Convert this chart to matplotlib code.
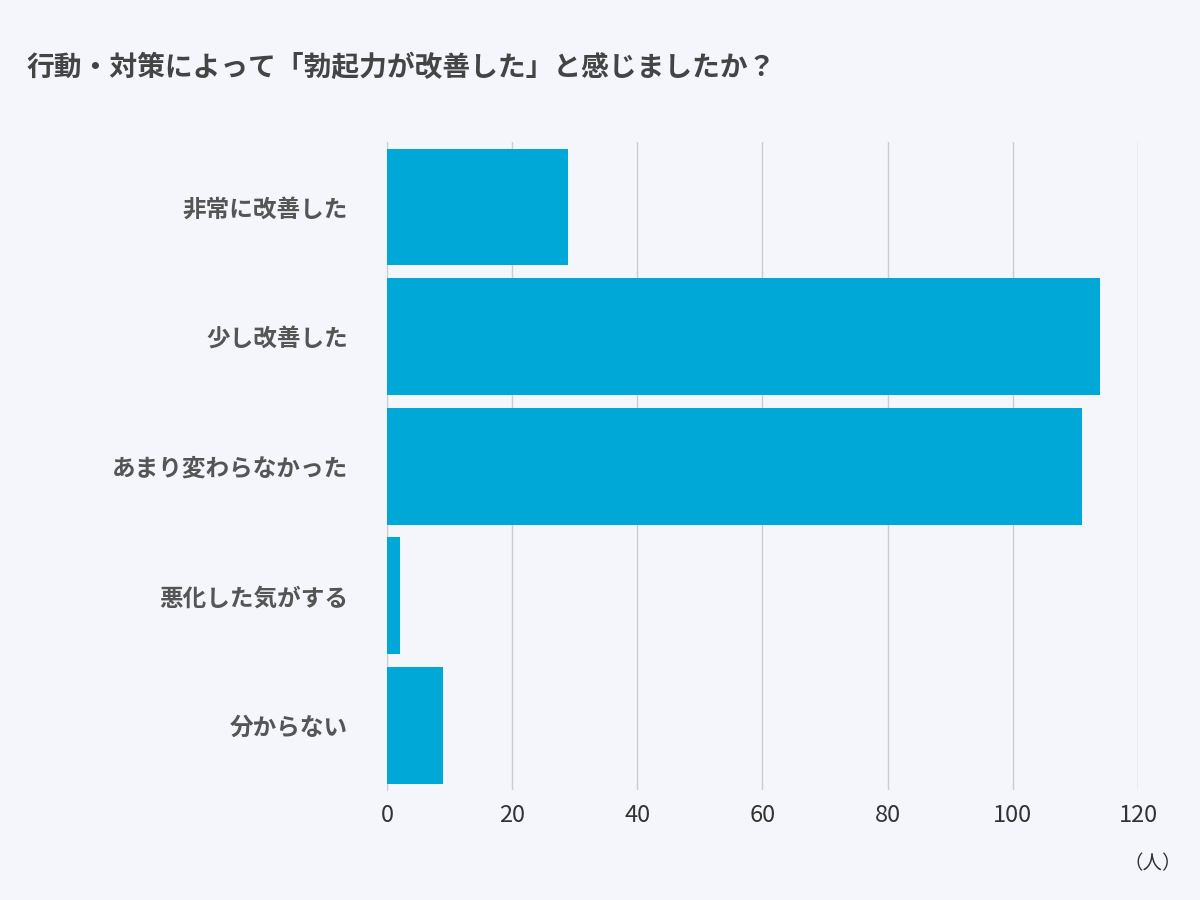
import matplotlib
matplotlib.use("Agg")
import matplotlib.pyplot as plt

categories = ["非常に改善した", "少し改善した", "あまり変わらなかった", "悪化した気がする", "分からない"]
values = [29, 114, 111, 2, 9]
xticks = [0, 20, 40, 60, 80, 100, 120]

plt.rcParams['font.family'] = ['Noto Sans CJK JP', 'DejaVu Sans']
bg = "#f4f6fb"
fig = plt.figure(figsize=(12, 9), dpi=100, facecolor=bg)
ax = fig.add_axes([0.3225, 0.122, 0.6258, 0.72], facecolor=bg)
y = list(range(len(categories)))
ax.barh(y, values, height=0.9, color="#00a8d8", zorder=3)
ax.set_ylim(len(categories) - 0.5, -0.5)
ax.set_xlim(0, 120)
ax.set_xticks(xticks)
ax.set_xticklabels([str(t) for t in xticks], fontsize=17, color="#333333")
ax.set_yticks(y)
ax.set_yticklabels(categories, fontsize=17, fontweight="bold", color="#555555")
ax.tick_params(axis='y', length=0, pad=28)
ax.tick_params(axis='x', length=0, pad=10)
ax.grid(axis='x', color="#cccccc", linewidth=1, zorder=0)
for s in ["top", "right", "bottom"]:
    ax.spines[s].set_visible(False)
ax.spines["left"].set_color("#cccccc")
fig.text(0.022, 0.925, "行動・対策によって「勃起力が改善した」と感じましたか？",
         fontsize=20, fontweight="bold", color="#444444", va="center")
fig.text(0.985, 0.04, "（人）", fontsize=14, color="#333333", ha="right", va="center")
fig.savefig("out.png", dpi=100, facecolor=bg)
